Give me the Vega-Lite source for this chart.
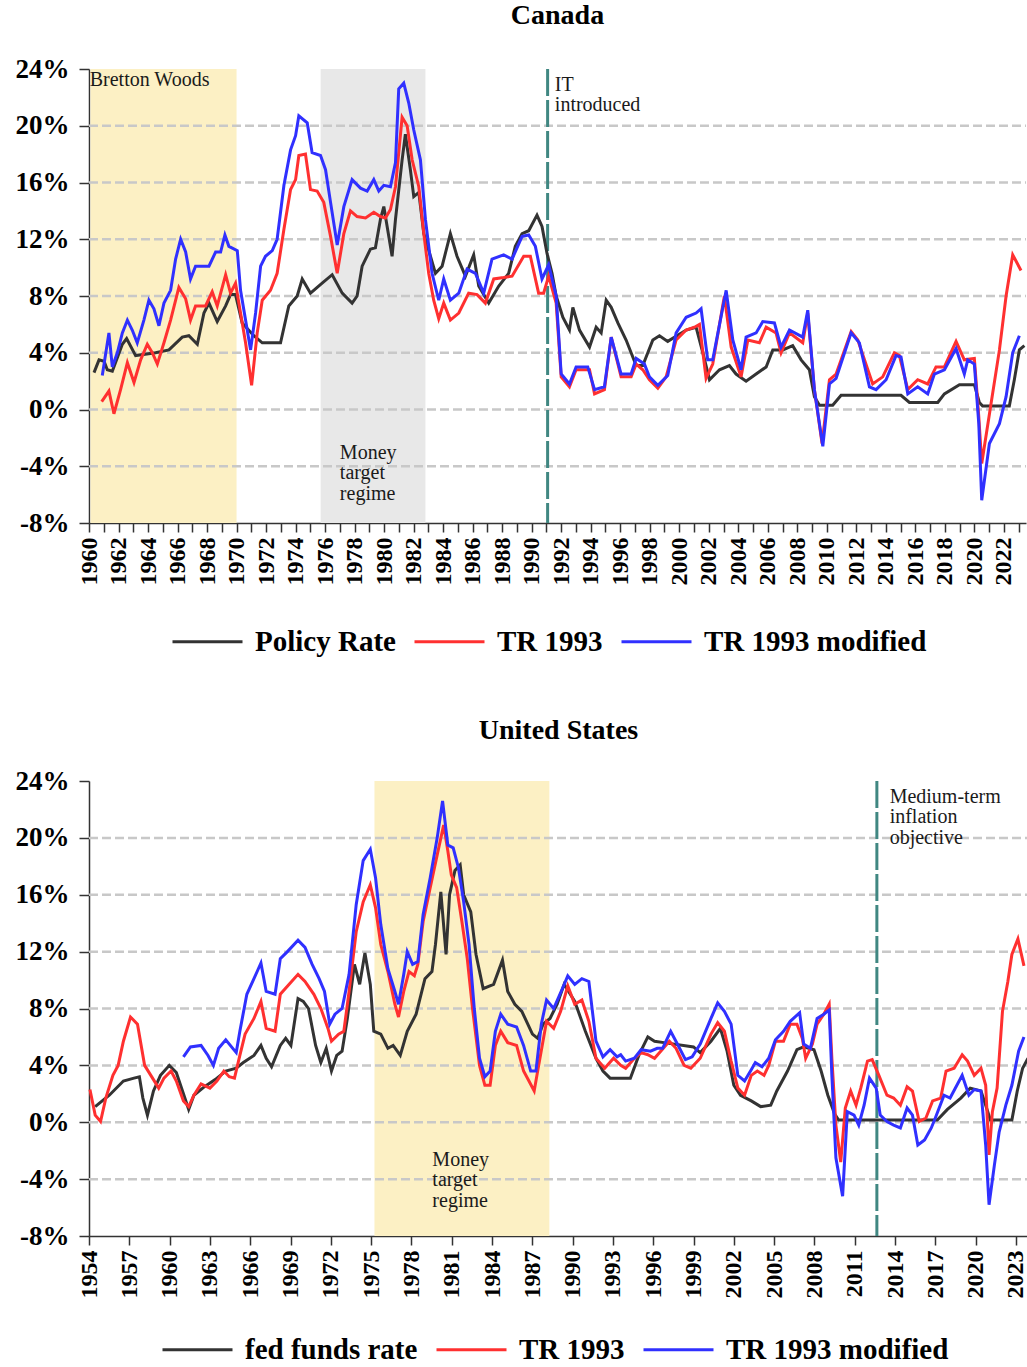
{
"$schema": "https://vega.github.io/schema/vega-lite/v6.json",
"padding": {"left": 15, "top": 2, "right": 0, "bottom": 0},
"spacing": 60,
"config": {
  "view": {"stroke": null},
  "font": "Liberation Serif",
  "title": {"font": "Liberation Serif", "fontSize": 28, "fontWeight": "bold", "color": "#000000"},
  "axis": {"labelFont": "Liberation Serif", "labelFontWeight": "bold", "labelColor": "#000000", "domainColor": "#333333", "tickColor": "#333333", "domainWidth": 1.5, "tickWidth": 1.5, "grid": false}
},
"datasets": {
"grid": [{"rate": -4}, {"rate": 0}, {"rate": 4}, {"rate": 8}, {"rate": 12}, {"rate": 16}, {"rate": 20}],
"ca": [
{"year":1960.34,"rate":2.6,"series":"Policy Rate"},{"year":1960.68,"rate":3.5,"series":"Policy Rate"},{"year":1961.02,"rate":3.4,"series":"Policy Rate"},{"year":1961.24,"rate":2.8,"series":"Policy Rate"},{"year":1961.58,"rate":2.7,"series":"Policy Rate"},{"year":1962.26,"rate":4.6,"series":"Policy Rate"},{"year":1962.55,"rate":5.0,"series":"Policy Rate"},{"year":1963.16,"rate":3.8,"series":"Policy Rate"},{"year":1964.51,"rate":4.0,"series":"Policy Rate"},{"year":1965.42,"rate":4.2,"series":"Policy Rate"},{"year":1966.32,"rate":5.1,"series":"Policy Rate"},{"year":1966.77,"rate":5.2,"series":"Policy Rate"},{"year":1967.34,"rate":4.6,"series":"Policy Rate"},{"year":1967.79,"rate":6.8,"series":"Policy Rate"},{"year":1968.13,"rate":7.5,"series":"Policy Rate"},{"year":1968.69,"rate":6.2,"series":"Policy Rate"},{"year":1969.26,"rate":7.3,"series":"Policy Rate"},{"year":1969.59,"rate":8.1,"series":"Policy Rate"},{"year":1969.93,"rate":8.1,"series":"Policy Rate"},{"year":1970.38,"rate":6.1,"series":"Policy Rate"},{"year":1971.17,"rate":5.2,"series":"Policy Rate"},{"year":1971.74,"rate":4.7,"series":"Policy Rate"},{"year":1972.98,"rate":4.7,"series":"Policy Rate"},{"year":1973.54,"rate":7.3,"series":"Policy Rate"},{"year":1974.11,"rate":8.0,"series":"Policy Rate"},{"year":1974.45,"rate":9.2,"series":"Policy Rate"},{"year":1975.01,"rate":8.2,"series":"Policy Rate"},{"year":1975.8,"rate":8.9,"series":"Policy Rate"},{"year":1976.48,"rate":9.5,"series":"Policy Rate"},{"year":1977.16,"rate":8.2,"series":"Policy Rate"},{"year":1977.83,"rate":7.5,"series":"Policy Rate"},{"year":1978.17,"rate":8.0,"series":"Policy Rate"},{"year":1978.51,"rate":10.1,"series":"Policy Rate"},{"year":1979.07,"rate":11.3,"series":"Policy Rate"},{"year":1979.41,"rate":11.4,"series":"Policy Rate"},{"year":1979.75,"rate":13.4,"series":"Policy Rate"},{"year":1979.98,"rate":14.3,"series":"Policy Rate"},{"year":1980.54,"rate":10.8,"series":"Policy Rate"},{"year":1980.77,"rate":13.4,"series":"Policy Rate"},{"year":1981.22,"rate":17.6,"series":"Policy Rate"},{"year":1981.44,"rate":19.4,"series":"Policy Rate"},{"year":1981.78,"rate":16.9,"series":"Policy Rate"},{"year":1982.01,"rate":15.0,"series":"Policy Rate"},{"year":1982.35,"rate":15.3,"series":"Policy Rate"},{"year":1982.69,"rate":12.4,"series":"Policy Rate"},{"year":1983.48,"rate":9.6,"series":"Policy Rate"},{"year":1983.93,"rate":10.1,"series":"Policy Rate"},{"year":1984.49,"rate":12.4,"series":"Policy Rate"},{"year":1984.94,"rate":10.8,"series":"Policy Rate"},{"year":1985.51,"rate":9.4,"series":"Policy Rate"},{"year":1986.07,"rate":10.9,"series":"Policy Rate"},{"year":1986.41,"rate":8.7,"series":"Policy Rate"},{"year":1987.09,"rate":7.5,"series":"Policy Rate"},{"year":1987.77,"rate":8.7,"series":"Policy Rate"},{"year":1988.44,"rate":9.6,"series":"Policy Rate"},{"year":1988.89,"rate":11.5,"series":"Policy Rate"},{"year":1989.35,"rate":12.4,"series":"Policy Rate"},{"year":1989.8,"rate":12.6,"series":"Policy Rate"},{"year":1990.36,"rate":13.7,"series":"Policy Rate"},{"year":1990.7,"rate":12.9,"series":"Policy Rate"},{"year":1991.04,"rate":11.0,"series":"Policy Rate"},{"year":1991.38,"rate":9.6,"series":"Policy Rate"},{"year":1991.66,"rate":8.0,"series":"Policy Rate"},{"year":1992.11,"rate":6.5,"series":"Policy Rate"},{"year":1992.56,"rate":5.6,"series":"Policy Rate"},{"year":1992.79,"rate":7.2,"series":"Policy Rate"},{"year":1993.24,"rate":5.6,"series":"Policy Rate"},{"year":1993.92,"rate":4.4,"series":"Policy Rate"},{"year":1994.37,"rate":5.8,"series":"Policy Rate"},{"year":1994.71,"rate":5.4,"series":"Policy Rate"},{"year":1995.05,"rate":7.7,"series":"Policy Rate"},{"year":1995.39,"rate":7.2,"series":"Policy Rate"},{"year":1995.84,"rate":6.1,"series":"Policy Rate"},{"year":1996.4,"rate":4.9,"series":"Policy Rate"},{"year":1997.08,"rate":3.1,"series":"Policy Rate"},{"year":1997.53,"rate":3.1,"series":"Policy Rate"},{"year":1998.21,"rate":4.9,"series":"Policy Rate"},{"year":1998.66,"rate":5.2,"series":"Policy Rate"},{"year":1999.22,"rate":4.8,"series":"Policy Rate"},{"year":2000.47,"rate":5.6,"series":"Policy Rate"},{"year":2001.14,"rate":5.8,"series":"Policy Rate"},{"year":2001.6,"rate":4.0,"series":"Policy Rate"},{"year":2002.05,"rate":2.1,"series":"Policy Rate"},{"year":2002.73,"rate":2.8,"series":"Policy Rate"},{"year":2003.4,"rate":3.1,"series":"Policy Rate"},{"year":2003.85,"rate":2.5,"series":"Policy Rate"},{"year":2004.53,"rate":2.0,"series":"Policy Rate"},{"year":2005.21,"rate":2.5,"series":"Policy Rate"},{"year":2005.89,"rate":3.0,"series":"Policy Rate"},{"year":2006.34,"rate":4.2,"series":"Policy Rate"},{"year":2007.02,"rate":4.2,"series":"Policy Rate"},{"year":2007.69,"rate":4.5,"series":"Policy Rate"},{"year":2008.26,"rate":3.5,"series":"Policy Rate"},{"year":2008.82,"rate":2.8,"series":"Policy Rate"},{"year":2009.16,"rate":0.9,"series":"Policy Rate"},{"year":2009.5,"rate":0.3,"series":"Policy Rate"},{"year":2010.4,"rate":0.3,"series":"Policy Rate"},{"year":2010.97,"rate":1.0,"series":"Policy Rate"},{"year":2015.03,"rate":1.0,"series":"Policy Rate"},{"year":2015.6,"rate":0.5,"series":"Policy Rate"},{"year":2017.52,"rate":0.5,"series":"Policy Rate"},{"year":2017.97,"rate":1.1,"series":"Policy Rate"},{"year":2018.99,"rate":1.75,"series":"Policy Rate"},{"year":2020.0,"rate":1.75,"series":"Policy Rate"},{"year":2020.34,"rate":0.5,"series":"Policy Rate"},{"year":2020.56,"rate":0.25,"series":"Policy Rate"},{"year":2022.37,"rate":0.25,"series":"Policy Rate"},{"year":2022.71,"rate":2.1,"series":"Policy Rate"},{"year":2023.05,"rate":4.2,"series":"Policy Rate"},{"year":2023.39,"rate":4.5,"series":"Policy Rate"},
{"year":1960.86,"rate":0.56,"series":"TR 1993"},{"year":1961.35,"rate":1.3,"series":"TR 1993"},{"year":1961.69,"rate":-0.3,"series":"TR 1993"},{"year":1962.14,"rate":1.4,"series":"TR 1993"},{"year":1962.6,"rate":3.3,"series":"TR 1993"},{"year":1963.05,"rate":1.9,"series":"TR 1993"},{"year":1963.5,"rate":3.5,"series":"TR 1993"},{"year":1963.95,"rate":4.6,"series":"TR 1993"},{"year":1964.29,"rate":4.0,"series":"TR 1993"},{"year":1964.63,"rate":3.2,"series":"TR 1993"},{"year":1965.08,"rate":4.7,"series":"TR 1993"},{"year":1965.53,"rate":6.3,"series":"TR 1993"},{"year":1966.09,"rate":8.6,"series":"TR 1993"},{"year":1966.55,"rate":7.8,"series":"TR 1993"},{"year":1966.88,"rate":6.3,"series":"TR 1993"},{"year":1967.22,"rate":7.3,"series":"TR 1993"},{"year":1967.9,"rate":7.3,"series":"TR 1993"},{"year":1968.35,"rate":8.3,"series":"TR 1993"},{"year":1968.69,"rate":7.3,"series":"TR 1993"},{"year":1969.26,"rate":9.5,"series":"TR 1993"},{"year":1969.59,"rate":8.2,"series":"TR 1993"},{"year":1969.93,"rate":8.9,"series":"TR 1993"},{"year":1970.27,"rate":6.8,"series":"TR 1993"},{"year":1970.61,"rate":4.7,"series":"TR 1993"},{"year":1971.02,"rate":1.7,"series":"TR 1993"},{"year":1971.4,"rate":5.4,"series":"TR 1993"},{"year":1971.74,"rate":7.7,"series":"TR 1993"},{"year":1972.3,"rate":8.4,"series":"TR 1993"},{"year":1972.75,"rate":9.6,"series":"TR 1993"},{"year":1973.21,"rate":12.7,"series":"TR 1993"},{"year":1973.66,"rate":15.5,"series":"TR 1993"},{"year":1974.0,"rate":16.2,"series":"TR 1993"},{"year":1974.22,"rate":17.9,"series":"TR 1993"},{"year":1974.67,"rate":18.0,"series":"TR 1993"},{"year":1975.01,"rate":15.5,"series":"TR 1993"},{"year":1975.46,"rate":15.4,"series":"TR 1993"},{"year":1975.91,"rate":14.6,"series":"TR 1993"},{"year":1976.37,"rate":12.2,"series":"TR 1993"},{"year":1976.82,"rate":9.6,"series":"TR 1993"},{"year":1977.27,"rate":12.4,"series":"TR 1993"},{"year":1977.72,"rate":14.0,"series":"TR 1993"},{"year":1978.17,"rate":13.6,"series":"TR 1993"},{"year":1978.74,"rate":13.5,"series":"TR 1993"},{"year":1979.3,"rate":13.9,"series":"TR 1993"},{"year":1979.75,"rate":13.6,"series":"TR 1993"},{"year":1980.09,"rate":13.5,"series":"TR 1993"},{"year":1980.43,"rate":14.1,"series":"TR 1993"},{"year":1980.77,"rate":15.7,"series":"TR 1993"},{"year":1981.22,"rate":20.6,"series":"TR 1993"},{"year":1981.56,"rate":20.0,"series":"TR 1993"},{"year":1981.9,"rate":17.6,"series":"TR 1993"},{"year":1982.35,"rate":15.7,"series":"TR 1993"},{"year":1982.69,"rate":12.4,"series":"TR 1993"},{"year":1983.02,"rate":9.6,"series":"TR 1993"},{"year":1983.36,"rate":7.7,"series":"TR 1993"},{"year":1983.7,"rate":6.4,"series":"TR 1993"},{"year":1984.04,"rate":7.5,"series":"TR 1993"},{"year":1984.49,"rate":6.3,"series":"TR 1993"},{"year":1985.06,"rate":6.8,"series":"TR 1993"},{"year":1985.73,"rate":8.2,"series":"TR 1993"},{"year":1986.3,"rate":8.1,"series":"TR 1993"},{"year":1986.86,"rate":7.5,"series":"TR 1993"},{"year":1987.43,"rate":9.2,"series":"TR 1993"},{"year":1988.1,"rate":9.3,"series":"TR 1993"},{"year":1988.67,"rate":9.4,"series":"TR 1993"},{"year":1989.46,"rate":10.8,"series":"TR 1993"},{"year":1989.91,"rate":10.8,"series":"TR 1993"},{"year":1990.47,"rate":8.2,"series":"TR 1993"},{"year":1990.81,"rate":8.2,"series":"TR 1993"},{"year":1991.15,"rate":9.4,"series":"TR 1993"},{"year":1991.66,"rate":7.5,"series":"TR 1993"},{"year":1992.0,"rate":2.3,"series":"TR 1993"},{"year":1992.56,"rate":1.6,"series":"TR 1993"},{"year":1993.01,"rate":2.8,"series":"TR 1993"},{"year":1993.92,"rate":2.8,"series":"TR 1993"},{"year":1994.26,"rate":1.1,"series":"TR 1993"},{"year":1994.93,"rate":1.4,"series":"TR 1993"},{"year":1995.39,"rate":5.1,"series":"TR 1993"},{"year":1996.06,"rate":2.3,"series":"TR 1993"},{"year":1996.74,"rate":2.3,"series":"TR 1993"},{"year":1997.08,"rate":3.2,"series":"TR 1993"},{"year":1997.53,"rate":2.8,"series":"TR 1993"},{"year":1997.98,"rate":2.1,"series":"TR 1993"},{"year":1998.55,"rate":1.5,"series":"TR 1993"},{"year":1999.11,"rate":2.3,"series":"TR 1993"},{"year":1999.79,"rate":4.9,"series":"TR 1993"},{"year":2000.47,"rate":5.6,"series":"TR 1993"},{"year":2001.03,"rate":5.8,"series":"TR 1993"},{"year":2001.37,"rate":6.0,"series":"TR 1993"},{"year":2001.82,"rate":2.2,"series":"TR 1993"},{"year":2002.27,"rate":3.2,"series":"TR 1993"},{"year":2003.06,"rate":8.0,"series":"TR 1993"},{"year":2003.52,"rate":4.4,"series":"TR 1993"},{"year":2004.19,"rate":2.3,"series":"TR 1993"},{"year":2004.65,"rate":4.9,"series":"TR 1993"},{"year":2005.43,"rate":4.7,"series":"TR 1993"},{"year":2005.89,"rate":5.8,"series":"TR 1993"},{"year":2006.56,"rate":5.4,"series":"TR 1993"},{"year":2006.9,"rate":4.0,"series":"TR 1993"},{"year":2007.47,"rate":5.4,"series":"TR 1993"},{"year":2008.37,"rate":4.7,"series":"TR 1993"},{"year":2008.71,"rate":6.8,"series":"TR 1993"},{"year":2009.16,"rate":1.4,"series":"TR 1993"},{"year":2009.68,"rate":-2.4,"series":"TR 1993"},{"year":2010.18,"rate":2.1,"series":"TR 1993"},{"year":2010.63,"rate":2.5,"series":"TR 1993"},{"year":2011.65,"rate":5.5,"series":"TR 1993"},{"year":2012.1,"rate":4.9,"series":"TR 1993"},{"year":2013.11,"rate":1.8,"series":"TR 1993"},{"year":2013.79,"rate":2.3,"series":"TR 1993"},{"year":2014.58,"rate":4.0,"series":"TR 1993"},{"year":2014.92,"rate":3.8,"series":"TR 1993"},{"year":2015.49,"rate":1.4,"series":"TR 1993"},{"year":2016.16,"rate":2.1,"series":"TR 1993"},{"year":2016.84,"rate":1.8,"series":"TR 1993"},{"year":2017.4,"rate":3.0,"series":"TR 1993"},{"year":2017.97,"rate":3.0,"series":"TR 1993"},{"year":2018.76,"rate":4.8,"series":"TR 1993"},{"year":2019.32,"rate":3.5,"series":"TR 1993"},{"year":2020.0,"rate":3.6,"series":"TR 1993"},{"year":2020.3,"rate":-0.5,"series":"TR 1993"},{"year":2020.5,"rate":-3.8,"series":"TR 1993"},{"year":2021.13,"rate":0.4,"series":"TR 1993"},{"year":2021.7,"rate":4.2,"series":"TR 1993"},{"year":2022.15,"rate":8.0,"series":"TR 1993"},{"year":2022.6,"rate":10.9,"series":"TR 1993"},{"year":2023.16,"rate":9.8,"series":"TR 1993"},
{"year":1960.9,"rate":2.4,"series":"TR 1993 modified"},{"year":1961.35,"rate":5.4,"series":"TR 1993 modified"},{"year":1961.58,"rate":3.0,"series":"TR 1993 modified"},{"year":1961.92,"rate":4.0,"series":"TR 1993 modified"},{"year":1962.26,"rate":5.4,"series":"TR 1993 modified"},{"year":1962.6,"rate":6.3,"series":"TR 1993 modified"},{"year":1962.93,"rate":5.6,"series":"TR 1993 modified"},{"year":1963.27,"rate":4.7,"series":"TR 1993 modified"},{"year":1963.72,"rate":6.3,"series":"TR 1993 modified"},{"year":1964.06,"rate":7.7,"series":"TR 1993 modified"},{"year":1964.4,"rate":7.1,"series":"TR 1993 modified"},{"year":1964.74,"rate":5.9,"series":"TR 1993 modified"},{"year":1965.08,"rate":7.5,"series":"TR 1993 modified"},{"year":1965.53,"rate":8.4,"series":"TR 1993 modified"},{"year":1965.87,"rate":10.6,"series":"TR 1993 modified"},{"year":1966.21,"rate":12.0,"series":"TR 1993 modified"},{"year":1966.55,"rate":11.1,"series":"TR 1993 modified"},{"year":1966.88,"rate":9.2,"series":"TR 1993 modified"},{"year":1967.22,"rate":10.1,"series":"TR 1993 modified"},{"year":1968.13,"rate":10.1,"series":"TR 1993 modified"},{"year":1968.58,"rate":11.1,"series":"TR 1993 modified"},{"year":1968.92,"rate":11.1,"series":"TR 1993 modified"},{"year":1969.21,"rate":12.3,"series":"TR 1993 modified"},{"year":1969.48,"rate":11.5,"series":"TR 1993 modified"},{"year":1970.05,"rate":11.2,"series":"TR 1993 modified"},{"year":1970.27,"rate":8.4,"series":"TR 1993 modified"},{"year":1970.61,"rate":6.3,"series":"TR 1993 modified"},{"year":1970.95,"rate":4.2,"series":"TR 1993 modified"},{"year":1971.29,"rate":6.8,"series":"TR 1993 modified"},{"year":1971.63,"rate":10.1,"series":"TR 1993 modified"},{"year":1971.96,"rate":10.8,"series":"TR 1993 modified"},{"year":1972.42,"rate":11.2,"series":"TR 1993 modified"},{"year":1972.75,"rate":12.0,"series":"TR 1993 modified"},{"year":1973.21,"rate":15.8,"series":"TR 1993 modified"},{"year":1973.66,"rate":18.3,"series":"TR 1993 modified"},{"year":1974.0,"rate":19.3,"series":"TR 1993 modified"},{"year":1974.22,"rate":20.7,"series":"TR 1993 modified"},{"year":1974.79,"rate":20.2,"series":"TR 1993 modified"},{"year":1975.12,"rate":18.1,"series":"TR 1993 modified"},{"year":1975.69,"rate":17.9,"series":"TR 1993 modified"},{"year":1976.03,"rate":16.9,"series":"TR 1993 modified"},{"year":1976.37,"rate":14.6,"series":"TR 1993 modified"},{"year":1976.82,"rate":11.6,"series":"TR 1993 modified"},{"year":1977.27,"rate":14.3,"series":"TR 1993 modified"},{"year":1977.83,"rate":16.2,"series":"TR 1993 modified"},{"year":1978.4,"rate":15.6,"series":"TR 1993 modified"},{"year":1978.85,"rate":15.4,"series":"TR 1993 modified"},{"year":1979.3,"rate":16.2,"series":"TR 1993 modified"},{"year":1979.64,"rate":15.4,"series":"TR 1993 modified"},{"year":1979.98,"rate":15.8,"series":"TR 1993 modified"},{"year":1980.43,"rate":15.7,"series":"TR 1993 modified"},{"year":1980.77,"rate":17.4,"series":"TR 1993 modified"},{"year":1980.99,"rate":22.6,"series":"TR 1993 modified"},{"year":1981.33,"rate":23.0,"series":"TR 1993 modified"},{"year":1981.67,"rate":21.6,"series":"TR 1993 modified"},{"year":1982.01,"rate":19.7,"series":"TR 1993 modified"},{"year":1982.46,"rate":17.6,"series":"TR 1993 modified"},{"year":1982.8,"rate":13.4,"series":"TR 1993 modified"},{"year":1983.25,"rate":9.6,"series":"TR 1993 modified"},{"year":1983.7,"rate":7.7,"series":"TR 1993 modified"},{"year":1984.04,"rate":9.2,"series":"TR 1993 modified"},{"year":1984.49,"rate":7.7,"series":"TR 1993 modified"},{"year":1985.06,"rate":8.2,"series":"TR 1993 modified"},{"year":1985.62,"rate":9.9,"series":"TR 1993 modified"},{"year":1986.19,"rate":9.6,"series":"TR 1993 modified"},{"year":1986.75,"rate":8.2,"series":"TR 1993 modified"},{"year":1987.31,"rate":10.6,"series":"TR 1993 modified"},{"year":1988.1,"rate":10.9,"series":"TR 1993 modified"},{"year":1988.67,"rate":10.6,"series":"TR 1993 modified"},{"year":1989.35,"rate":12.2,"series":"TR 1993 modified"},{"year":1989.8,"rate":12.3,"series":"TR 1993 modified"},{"year":1990.25,"rate":11.5,"series":"TR 1993 modified"},{"year":1990.7,"rate":9.2,"series":"TR 1993 modified"},{"year":1991.15,"rate":10.2,"series":"TR 1993 modified"},{"year":1991.66,"rate":8.0,"series":"TR 1993 modified"},{"year":1992.0,"rate":2.5,"series":"TR 1993 modified"},{"year":1992.56,"rate":1.8,"series":"TR 1993 modified"},{"year":1993.01,"rate":3.0,"series":"TR 1993 modified"},{"year":1993.8,"rate":3.0,"series":"TR 1993 modified"},{"year":1994.26,"rate":1.4,"series":"TR 1993 modified"},{"year":1994.93,"rate":1.6,"series":"TR 1993 modified"},{"year":1995.39,"rate":5.1,"series":"TR 1993 modified"},{"year":1996.06,"rate":2.5,"series":"TR 1993 modified"},{"year":1996.74,"rate":2.5,"series":"TR 1993 modified"},{"year":1997.08,"rate":3.6,"series":"TR 1993 modified"},{"year":1997.64,"rate":3.2,"series":"TR 1993 modified"},{"year":1997.98,"rate":2.3,"series":"TR 1993 modified"},{"year":1998.55,"rate":1.7,"series":"TR 1993 modified"},{"year":1999.22,"rate":2.4,"series":"TR 1993 modified"},{"year":1999.79,"rate":5.4,"series":"TR 1993 modified"},{"year":2000.47,"rate":6.5,"series":"TR 1993 modified"},{"year":2001.14,"rate":6.8,"series":"TR 1993 modified"},{"year":2001.48,"rate":7.1,"series":"TR 1993 modified"},{"year":2001.93,"rate":3.5,"series":"TR 1993 modified"},{"year":2002.27,"rate":3.5,"series":"TR 1993 modified"},{"year":2003.18,"rate":8.4,"series":"TR 1993 modified"},{"year":2003.63,"rate":4.9,"series":"TR 1993 modified"},{"year":2004.19,"rate":2.8,"series":"TR 1993 modified"},{"year":2004.53,"rate":5.1,"series":"TR 1993 modified"},{"year":2005.21,"rate":5.4,"series":"TR 1993 modified"},{"year":2005.66,"rate":6.2,"series":"TR 1993 modified"},{"year":2006.45,"rate":6.1,"series":"TR 1993 modified"},{"year":2006.9,"rate":4.4,"series":"TR 1993 modified"},{"year":2007.47,"rate":5.6,"series":"TR 1993 modified"},{"year":2008.37,"rate":5.1,"series":"TR 1993 modified"},{"year":2008.71,"rate":7.0,"series":"TR 1993 modified"},{"year":2009.16,"rate":1.4,"series":"TR 1993 modified"},{"year":2009.73,"rate":-2.6,"series":"TR 1993 modified"},{"year":2010.18,"rate":1.8,"series":"TR 1993 modified"},{"year":2010.63,"rate":2.2,"series":"TR 1993 modified"},{"year":2011.65,"rate":5.4,"series":"TR 1993 modified"},{"year":2012.21,"rate":4.7,"series":"TR 1993 modified"},{"year":2012.89,"rate":1.6,"series":"TR 1993 modified"},{"year":2013.34,"rate":1.4,"series":"TR 1993 modified"},{"year":2014.02,"rate":2.1,"series":"TR 1993 modified"},{"year":2014.69,"rate":3.8,"series":"TR 1993 modified"},{"year":2015.03,"rate":3.7,"series":"TR 1993 modified"},{"year":2015.49,"rate":1.1,"series":"TR 1993 modified"},{"year":2016.16,"rate":1.6,"series":"TR 1993 modified"},{"year":2016.84,"rate":1.1,"series":"TR 1993 modified"},{"year":2017.29,"rate":2.5,"series":"TR 1993 modified"},{"year":2017.97,"rate":2.8,"series":"TR 1993 modified"},{"year":2018.76,"rate":4.3,"series":"TR 1993 modified"},{"year":2019.32,"rate":2.5,"series":"TR 1993 modified"},{"year":2019.55,"rate":3.5,"series":"TR 1993 modified"},{"year":2020.0,"rate":3.2,"series":"TR 1993 modified"},{"year":2020.3,"rate":-1.0,"series":"TR 1993 modified"},{"year":2020.5,"rate":-6.4,"series":"TR 1993 modified"},{"year":2021.02,"rate":-2.4,"series":"TR 1993 modified"},{"year":2021.7,"rate":-1.0,"series":"TR 1993 modified"},{"year":2022.15,"rate":0.9,"series":"TR 1993 modified"},{"year":2022.6,"rate":4.0,"series":"TR 1993 modified"},{"year":2023.05,"rate":5.2,"series":"TR 1993 modified"}
],
"us": [
{"year":1954.46,"rate":1.1,"series":"fed funds rate"},{"year":1955.51,"rate":1.9,"series":"fed funds rate"},{"year":1956.56,"rate":2.9,"series":"fed funds rate"},{"year":1957.35,"rate":3.1,"series":"fed funds rate"},{"year":1957.75,"rate":3.2,"series":"fed funds rate"},{"year":1958.01,"rate":1.7,"series":"fed funds rate"},{"year":1958.35,"rate":0.5,"series":"fed funds rate"},{"year":1958.8,"rate":2.2,"series":"fed funds rate"},{"year":1959.32,"rate":3.3,"series":"fed funds rate"},{"year":1959.98,"rate":4.0,"series":"fed funds rate"},{"year":1960.5,"rate":3.5,"series":"fed funds rate"},{"year":1961.03,"rate":2.0,"series":"fed funds rate"},{"year":1961.42,"rate":0.9,"series":"fed funds rate"},{"year":1961.81,"rate":1.9,"series":"fed funds rate"},{"year":1962.6,"rate":2.5,"series":"fed funds rate"},{"year":1963.39,"rate":3.0,"series":"fed funds rate"},{"year":1964.18,"rate":3.6,"series":"fed funds rate"},{"year":1964.96,"rate":3.8,"series":"fed funds rate"},{"year":1965.49,"rate":4.2,"series":"fed funds rate"},{"year":1966.28,"rate":4.7,"series":"fed funds rate"},{"year":1966.8,"rate":5.4,"series":"fed funds rate"},{"year":1967.19,"rate":4.5,"series":"fed funds rate"},{"year":1967.59,"rate":3.9,"series":"fed funds rate"},{"year":1968.24,"rate":5.4,"series":"fed funds rate"},{"year":1968.64,"rate":5.9,"series":"fed funds rate"},{"year":1969.03,"rate":5.4,"series":"fed funds rate"},{"year":1969.56,"rate":8.7,"series":"fed funds rate"},{"year":1969.95,"rate":8.5,"series":"fed funds rate"},{"year":1970.34,"rate":8.0,"series":"fed funds rate"},{"year":1970.87,"rate":5.4,"series":"fed funds rate"},{"year":1971.26,"rate":4.2,"series":"fed funds rate"},{"year":1971.66,"rate":5.2,"series":"fed funds rate"},{"year":1972.05,"rate":3.6,"series":"fed funds rate"},{"year":1972.44,"rate":4.7,"series":"fed funds rate"},{"year":1972.84,"rate":5.0,"series":"fed funds rate"},{"year":1973.23,"rate":7.3,"series":"fed funds rate"},{"year":1973.76,"rate":11.1,"series":"fed funds rate"},{"year":1974.15,"rate":9.7,"series":"fed funds rate"},{"year":1974.54,"rate":11.9,"series":"fed funds rate"},{"year":1974.94,"rate":9.7,"series":"fed funds rate"},{"year":1975.2,"rate":6.4,"series":"fed funds rate"},{"year":1975.72,"rate":6.2,"series":"fed funds rate"},{"year":1976.25,"rate":5.2,"series":"fed funds rate"},{"year":1976.64,"rate":5.4,"series":"fed funds rate"},{"year":1977.17,"rate":4.7,"series":"fed funds rate"},{"year":1977.69,"rate":6.4,"series":"fed funds rate"},{"year":1978.35,"rate":7.6,"series":"fed funds rate"},{"year":1979.01,"rate":10.1,"series":"fed funds rate"},{"year":1979.53,"rate":10.6,"series":"fed funds rate"},{"year":1979.79,"rate":12.5,"series":"fed funds rate"},{"year":1980.19,"rate":16.2,"series":"fed funds rate"},{"year":1980.58,"rate":11.8,"series":"fed funds rate"},{"year":1980.84,"rate":16.0,"series":"fed funds rate"},{"year":1981.24,"rate":17.7,"series":"fed funds rate"},{"year":1981.63,"rate":18.1,"series":"fed funds rate"},{"year":1981.89,"rate":16.0,"series":"fed funds rate"},{"year":1982.42,"rate":14.8,"series":"fed funds rate"},{"year":1982.81,"rate":11.8,"series":"fed funds rate"},{"year":1983.34,"rate":9.4,"series":"fed funds rate"},{"year":1984.12,"rate":9.7,"series":"fed funds rate"},{"year":1984.78,"rate":11.4,"series":"fed funds rate"},{"year":1985.17,"rate":9.2,"series":"fed funds rate"},{"year":1985.7,"rate":8.3,"series":"fed funds rate"},{"year":1986.22,"rate":7.8,"series":"fed funds rate"},{"year":1987.01,"rate":6.2,"series":"fed funds rate"},{"year":1987.4,"rate":5.9,"series":"fed funds rate"},{"year":1987.8,"rate":6.9,"series":"fed funds rate"},{"year":1988.32,"rate":7.3,"series":"fed funds rate"},{"year":1988.85,"rate":8.3,"series":"fed funds rate"},{"year":1989.37,"rate":9.7,"series":"fed funds rate"},{"year":1990.16,"rate":8.5,"series":"fed funds rate"},{"year":1990.95,"rate":6.4,"series":"fed funds rate"},{"year":1991.74,"rate":4.5,"series":"fed funds rate"},{"year":1992.26,"rate":3.6,"series":"fed funds rate"},{"year":1992.79,"rate":3.1,"series":"fed funds rate"},{"year":1993.58,"rate":3.1,"series":"fed funds rate"},{"year":1994.3,"rate":3.1,"series":"fed funds rate"},{"year":1994.95,"rate":4.75,"series":"fed funds rate"},{"year":1995.6,"rate":6.0,"series":"fed funds rate"},{"year":1996.1,"rate":5.7,"series":"fed funds rate"},{"year":1996.8,"rate":5.6,"series":"fed funds rate"},{"year":1999.0,"rate":5.3,"series":"fed funds rate"},{"year":1999.5,"rate":4.9,"series":"fed funds rate"},{"year":2000.3,"rate":5.7,"series":"fed funds rate"},{"year":2001.0,"rate":6.6,"series":"fed funds rate"},{"year":2001.5,"rate":5.0,"series":"fed funds rate"},{"year":2002.0,"rate":2.6,"series":"fed funds rate"},{"year":2002.5,"rate":1.9,"series":"fed funds rate"},{"year":2003.3,"rate":1.5,"series":"fed funds rate"},{"year":2004.0,"rate":1.1,"series":"fed funds rate"},{"year":2004.75,"rate":1.2,"series":"fed funds rate"},{"year":2005.2,"rate":2.2,"series":"fed funds rate"},{"year":2006.0,"rate":3.6,"series":"fed funds rate"},{"year":2006.7,"rate":5.1,"series":"fed funds rate"},{"year":2007.2,"rate":5.3,"series":"fed funds rate"},{"year":2007.97,"rate":5.1,"series":"fed funds rate"},{"year":2008.5,"rate":3.6,"series":"fed funds rate"},{"year":2009.0,"rate":1.9,"series":"fed funds rate"},{"year":2009.5,"rate":0.6,"series":"fed funds rate"},{"year":2009.8,"rate":0.16,"series":"fed funds rate"},{"year":2017.15,"rate":0.16,"series":"fed funds rate"},{"year":2017.9,"rate":0.9,"series":"fed funds rate"},{"year":2018.9,"rate":1.7,"series":"fed funds rate"},{"year":2019.6,"rate":2.4,"series":"fed funds rate"},{"year":2020.4,"rate":2.2,"series":"fed funds rate"},{"year":2020.75,"rate":1.2,"series":"fed funds rate"},{"year":2021.1,"rate":0.16,"series":"fed funds rate"},{"year":2022.7,"rate":0.16,"series":"fed funds rate"},{"year":2023.1,"rate":2.2,"series":"fed funds rate"},{"year":2023.5,"rate":3.8,"series":"fed funds rate"},{"year":2023.9,"rate":4.5,"series":"fed funds rate"},
{"year":1954.07,"rate":2.3,"series":"TR 1993"},{"year":1954.46,"rate":0.5,"series":"TR 1993"},{"year":1954.86,"rate":0.05,"series":"TR 1993"},{"year":1955.25,"rate":1.7,"series":"TR 1993"},{"year":1955.78,"rate":3.3,"series":"TR 1993"},{"year":1956.17,"rate":4.0,"series":"TR 1993"},{"year":1956.56,"rate":5.7,"series":"TR 1993"},{"year":1957.09,"rate":7.4,"series":"TR 1993"},{"year":1957.61,"rate":6.9,"series":"TR 1993"},{"year":1958.14,"rate":4.0,"series":"TR 1993"},{"year":1958.8,"rate":3.0,"series":"TR 1993"},{"year":1959.19,"rate":2.4,"series":"TR 1993"},{"year":1959.58,"rate":3.1,"series":"TR 1993"},{"year":1960.11,"rate":3.6,"series":"TR 1993"},{"year":1960.5,"rate":2.9,"series":"TR 1993"},{"year":1961.03,"rate":1.5,"series":"TR 1993"},{"year":1961.42,"rate":1.1,"series":"TR 1993"},{"year":1961.81,"rate":1.9,"series":"TR 1993"},{"year":1962.34,"rate":2.7,"series":"TR 1993"},{"year":1963.0,"rate":2.4,"series":"TR 1993"},{"year":1963.52,"rate":2.9,"series":"TR 1993"},{"year":1964.04,"rate":3.6,"series":"TR 1993"},{"year":1964.44,"rate":3.2,"series":"TR 1993"},{"year":1964.83,"rate":3.1,"series":"TR 1993"},{"year":1965.23,"rate":4.7,"series":"TR 1993"},{"year":1965.62,"rate":6.2,"series":"TR 1993"},{"year":1966.28,"rate":7.3,"series":"TR 1993"},{"year":1966.8,"rate":8.5,"series":"TR 1993"},{"year":1967.19,"rate":6.6,"series":"TR 1993"},{"year":1967.85,"rate":6.4,"series":"TR 1993"},{"year":1968.24,"rate":9.0,"series":"TR 1993"},{"year":1968.9,"rate":9.7,"series":"TR 1993"},{"year":1969.56,"rate":10.4,"series":"TR 1993"},{"year":1970.08,"rate":9.9,"series":"TR 1993"},{"year":1970.74,"rate":9.0,"series":"TR 1993"},{"year":1971.26,"rate":8.0,"series":"TR 1993"},{"year":1971.79,"rate":6.6,"series":"TR 1993"},{"year":1972.05,"rate":5.7,"series":"TR 1993"},{"year":1972.58,"rate":6.2,"series":"TR 1993"},{"year":1972.97,"rate":6.4,"series":"TR 1993"},{"year":1973.36,"rate":9.2,"series":"TR 1993"},{"year":1973.89,"rate":13.4,"series":"TR 1993"},{"year":1974.41,"rate":15.5,"series":"TR 1993"},{"year":1974.94,"rate":16.7,"series":"TR 1993"},{"year":1975.33,"rate":15.1,"series":"TR 1993"},{"year":1975.72,"rate":12.5,"series":"TR 1993"},{"year":1976.25,"rate":10.6,"series":"TR 1993"},{"year":1976.77,"rate":8.3,"series":"TR 1993"},{"year":1977.04,"rate":7.4,"series":"TR 1993"},{"year":1977.43,"rate":9.2,"series":"TR 1993"},{"year":1977.82,"rate":10.6,"series":"TR 1993"},{"year":1978.22,"rate":10.3,"series":"TR 1993"},{"year":1978.48,"rate":11.1,"series":"TR 1993"},{"year":1978.87,"rate":14.1,"series":"TR 1993"},{"year":1979.4,"rate":16.5,"series":"TR 1993"},{"year":1979.92,"rate":18.8,"series":"TR 1993"},{"year":1980.4,"rate":20.9,"series":"TR 1993"},{"year":1980.71,"rate":19.1,"series":"TR 1993"},{"year":1980.97,"rate":17.4,"series":"TR 1993"},{"year":1981.37,"rate":16.5,"series":"TR 1993"},{"year":1981.76,"rate":14.1,"series":"TR 1993"},{"year":1982.16,"rate":11.5,"series":"TR 1993"},{"year":1982.55,"rate":8.0,"series":"TR 1993"},{"year":1983.07,"rate":4.0,"series":"TR 1993"},{"year":1983.47,"rate":2.6,"series":"TR 1993"},{"year":1983.86,"rate":2.6,"series":"TR 1993"},{"year":1984.25,"rate":5.4,"series":"TR 1993"},{"year":1984.65,"rate":6.4,"series":"TR 1993"},{"year":1985.17,"rate":5.6,"series":"TR 1993"},{"year":1985.83,"rate":5.4,"series":"TR 1993"},{"year":1986.35,"rate":3.6,"series":"TR 1993"},{"year":1986.75,"rate":2.9,"series":"TR 1993"},{"year":1987.14,"rate":2.2,"series":"TR 1993"},{"year":1987.4,"rate":3.6,"series":"TR 1993"},{"year":1988.06,"rate":7.1,"series":"TR 1993"},{"year":1988.59,"rate":6.6,"series":"TR 1993"},{"year":1989.11,"rate":7.8,"series":"TR 1993"},{"year":1989.64,"rate":9.6,"series":"TR 1993"},{"year":1990.16,"rate":8.3,"series":"TR 1993"},{"year":1990.69,"rate":8.6,"series":"TR 1993"},{"year":1991.21,"rate":7.1,"series":"TR 1993"},{"year":1991.74,"rate":4.5,"series":"TR 1993"},{"year":1992.39,"rate":3.8,"series":"TR 1993"},{"year":1993.05,"rate":4.5,"series":"TR 1993"},{"year":1993.58,"rate":4.0,"series":"TR 1993"},{"year":1993.95,"rate":3.8,"series":"TR 1993"},{"year":1994.6,"rate":4.5,"series":"TR 1993"},{"year":1995.1,"rate":4.9,"series":"TR 1993"},{"year":1995.6,"rate":4.75,"series":"TR 1993"},{"year":1996.1,"rate":4.5,"series":"TR 1993"},{"year":1996.56,"rate":5.0,"series":"TR 1993"},{"year":1997.2,"rate":5.7,"series":"TR 1993"},{"year":1997.7,"rate":5.2,"series":"TR 1993"},{"year":1998.3,"rate":4.0,"series":"TR 1993"},{"year":1998.8,"rate":3.8,"series":"TR 1993"},{"year":1999.5,"rate":4.5,"series":"TR 1993"},{"year":2000.3,"rate":6.2,"series":"TR 1993"},{"year":2000.8,"rate":7.0,"series":"TR 1993"},{"year":2001.3,"rate":6.4,"series":"TR 1993"},{"year":2001.8,"rate":4.3,"series":"TR 1993"},{"year":2002.3,"rate":2.4,"series":"TR 1993"},{"year":2002.8,"rate":1.9,"series":"TR 1993"},{"year":2003.3,"rate":3.3,"series":"TR 1993"},{"year":2003.75,"rate":3.6,"series":"TR 1993"},{"year":2004.25,"rate":3.3,"series":"TR 1993"},{"year":2004.6,"rate":4.0,"series":"TR 1993"},{"year":2005.1,"rate":5.7,"series":"TR 1993"},{"year":2005.7,"rate":5.7,"series":"TR 1993"},{"year":2006.2,"rate":6.9,"series":"TR 1993"},{"year":2006.7,"rate":6.9,"series":"TR 1993"},{"year":2007.1,"rate":5.9,"series":"TR 1993"},{"year":2007.35,"rate":4.5,"series":"TR 1993"},{"year":2007.85,"rate":5.5,"series":"TR 1993"},{"year":2008.2,"rate":6.9,"series":"TR 1993"},{"year":2008.7,"rate":7.6,"series":"TR 1993"},{"year":2009.1,"rate":8.3,"series":"TR 1993"},{"year":2009.3,"rate":4.5,"series":"TR 1993"},{"year":2009.6,"rate":-0.2,"series":"TR 1993"},{"year":2009.96,"rate":-2.8,"series":"TR 1993"},{"year":2010.3,"rate":1.0,"series":"TR 1993"},{"year":2010.7,"rate":2.2,"series":"TR 1993"},{"year":2011.1,"rate":1.2,"series":"TR 1993"},{"year":2011.45,"rate":2.4,"series":"TR 1993"},{"year":2011.95,"rate":4.3,"series":"TR 1993"},{"year":2012.3,"rate":4.4,"series":"TR 1993"},{"year":2012.8,"rate":3.3,"series":"TR 1993"},{"year":2013.4,"rate":1.9,"series":"TR 1993"},{"year":2013.9,"rate":1.7,"series":"TR 1993"},{"year":2014.4,"rate":1.2,"series":"TR 1993"},{"year":2014.9,"rate":2.5,"series":"TR 1993"},{"year":2015.3,"rate":2.2,"series":"TR 1993"},{"year":2015.8,"rate":0.05,"series":"TR 1993"},{"year":2016.3,"rate":0.3,"series":"TR 1993"},{"year":2016.8,"rate":1.5,"series":"TR 1993"},{"year":2017.4,"rate":1.7,"series":"TR 1993"},{"year":2017.8,"rate":3.6,"series":"TR 1993"},{"year":2018.4,"rate":3.8,"series":"TR 1993"},{"year":2019.0,"rate":4.75,"series":"TR 1993"},{"year":2019.4,"rate":4.3,"series":"TR 1993"},{"year":2019.9,"rate":3.3,"series":"TR 1993"},{"year":2020.4,"rate":3.8,"series":"TR 1993"},{"year":2020.75,"rate":2.6,"series":"TR 1993"},{"year":2021.0,"rate":-2.3,"series":"TR 1993"},{"year":2021.25,"rate":0.75,"series":"TR 1993"},{"year":2021.6,"rate":2.4,"series":"TR 1993"},{"year":2022.0,"rate":7.8,"series":"TR 1993"},{"year":2022.4,"rate":9.9,"series":"TR 1993"},{"year":2022.7,"rate":11.8,"series":"TR 1993"},{"year":2023.15,"rate":12.9,"series":"TR 1993"},{"year":2023.6,"rate":11.0,"series":"TR 1993"},
{"year":1961.03,"rate":4.6,"series":"TR 1993 modified"},{"year":1961.55,"rate":5.3,"series":"TR 1993 modified"},{"year":1962.34,"rate":5.4,"series":"TR 1993 modified"},{"year":1962.86,"rate":4.7,"series":"TR 1993 modified"},{"year":1963.26,"rate":4.0,"series":"TR 1993 modified"},{"year":1963.65,"rate":5.2,"series":"TR 1993 modified"},{"year":1964.18,"rate":5.8,"series":"TR 1993 modified"},{"year":1964.96,"rate":4.9,"series":"TR 1993 modified"},{"year":1965.23,"rate":6.4,"series":"TR 1993 modified"},{"year":1965.75,"rate":9.0,"series":"TR 1993 modified"},{"year":1966.28,"rate":10.1,"series":"TR 1993 modified"},{"year":1966.8,"rate":11.2,"series":"TR 1993 modified"},{"year":1967.19,"rate":9.2,"series":"TR 1993 modified"},{"year":1967.85,"rate":9.0,"series":"TR 1993 modified"},{"year":1968.24,"rate":11.5,"series":"TR 1993 modified"},{"year":1968.77,"rate":12.0,"series":"TR 1993 modified"},{"year":1969.56,"rate":12.8,"series":"TR 1993 modified"},{"year":1970.08,"rate":12.3,"series":"TR 1993 modified"},{"year":1970.61,"rate":11.1,"series":"TR 1993 modified"},{"year":1971.13,"rate":10.1,"series":"TR 1993 modified"},{"year":1971.53,"rate":9.2,"series":"TR 1993 modified"},{"year":1971.92,"rate":6.9,"series":"TR 1993 modified"},{"year":1972.31,"rate":7.6,"series":"TR 1993 modified"},{"year":1972.84,"rate":8.0,"series":"TR 1993 modified"},{"year":1973.36,"rate":10.4,"series":"TR 1993 modified"},{"year":1973.89,"rate":15.3,"series":"TR 1993 modified"},{"year":1974.41,"rate":18.4,"series":"TR 1993 modified"},{"year":1974.94,"rate":19.2,"series":"TR 1993 modified"},{"year":1975.33,"rate":17.2,"series":"TR 1993 modified"},{"year":1975.72,"rate":13.9,"series":"TR 1993 modified"},{"year":1976.25,"rate":10.8,"series":"TR 1993 modified"},{"year":1976.77,"rate":9.2,"series":"TR 1993 modified"},{"year":1977.04,"rate":8.3,"series":"TR 1993 modified"},{"year":1977.43,"rate":10.4,"series":"TR 1993 modified"},{"year":1977.69,"rate":12.0,"series":"TR 1993 modified"},{"year":1978.09,"rate":11.1,"series":"TR 1993 modified"},{"year":1978.48,"rate":11.3,"series":"TR 1993 modified"},{"year":1978.87,"rate":14.6,"series":"TR 1993 modified"},{"year":1979.4,"rate":17.2,"series":"TR 1993 modified"},{"year":1979.92,"rate":20.0,"series":"TR 1993 modified"},{"year":1980.32,"rate":22.6,"series":"TR 1993 modified"},{"year":1980.71,"rate":19.5,"series":"TR 1993 modified"},{"year":1981.11,"rate":19.3,"series":"TR 1993 modified"},{"year":1981.5,"rate":17.9,"series":"TR 1993 modified"},{"year":1981.89,"rate":15.5,"series":"TR 1993 modified"},{"year":1982.29,"rate":12.5,"series":"TR 1993 modified"},{"year":1982.68,"rate":8.0,"series":"TR 1993 modified"},{"year":1983.07,"rate":4.5,"series":"TR 1993 modified"},{"year":1983.47,"rate":3.2,"series":"TR 1993 modified"},{"year":1983.86,"rate":3.6,"series":"TR 1993 modified"},{"year":1984.25,"rate":6.4,"series":"TR 1993 modified"},{"year":1984.65,"rate":7.6,"series":"TR 1993 modified"},{"year":1985.17,"rate":6.9,"series":"TR 1993 modified"},{"year":1985.83,"rate":6.7,"series":"TR 1993 modified"},{"year":1986.35,"rate":5.4,"series":"TR 1993 modified"},{"year":1986.88,"rate":3.6,"series":"TR 1993 modified"},{"year":1987.27,"rate":3.6,"series":"TR 1993 modified"},{"year":1987.67,"rate":6.9,"series":"TR 1993 modified"},{"year":1988.06,"rate":8.6,"series":"TR 1993 modified"},{"year":1988.59,"rate":8.0,"series":"TR 1993 modified"},{"year":1989.24,"rate":9.4,"series":"TR 1993 modified"},{"year":1989.64,"rate":10.3,"series":"TR 1993 modified"},{"year":1990.16,"rate":9.7,"series":"TR 1993 modified"},{"year":1990.69,"rate":10.1,"series":"TR 1993 modified"},{"year":1991.21,"rate":9.9,"series":"TR 1993 modified"},{"year":1991.74,"rate":5.7,"series":"TR 1993 modified"},{"year":1992.26,"rate":4.6,"series":"TR 1993 modified"},{"year":1992.79,"rate":5.1,"series":"TR 1993 modified"},{"year":1993.31,"rate":4.6,"series":"TR 1993 modified"},{"year":1993.58,"rate":4.75,"series":"TR 1993 modified"},{"year":1993.95,"rate":4.3,"series":"TR 1993 modified"},{"year":1994.6,"rate":4.5,"series":"TR 1993 modified"},{"year":1995.1,"rate":5.1,"series":"TR 1993 modified"},{"year":1995.8,"rate":5.0,"series":"TR 1993 modified"},{"year":1996.3,"rate":5.2,"series":"TR 1993 modified"},{"year":1996.7,"rate":5.2,"series":"TR 1993 modified"},{"year":1997.3,"rate":6.4,"series":"TR 1993 modified"},{"year":1997.8,"rate":5.5,"series":"TR 1993 modified"},{"year":1998.4,"rate":4.4,"series":"TR 1993 modified"},{"year":1998.9,"rate":4.6,"series":"TR 1993 modified"},{"year":1999.5,"rate":5.5,"series":"TR 1993 modified"},{"year":2000.3,"rate":7.3,"series":"TR 1993 modified"},{"year":2000.8,"rate":8.4,"series":"TR 1993 modified"},{"year":2001.3,"rate":7.8,"series":"TR 1993 modified"},{"year":2001.8,"rate":6.9,"series":"TR 1993 modified"},{"year":2002.3,"rate":3.3,"series":"TR 1993 modified"},{"year":2002.8,"rate":2.9,"series":"TR 1993 modified"},{"year":2003.3,"rate":3.7,"series":"TR 1993 modified"},{"year":2003.6,"rate":4.2,"series":"TR 1993 modified"},{"year":2004.1,"rate":3.9,"series":"TR 1993 modified"},{"year":2004.6,"rate":4.5,"series":"TR 1993 modified"},{"year":2005.1,"rate":5.8,"series":"TR 1993 modified"},{"year":2005.7,"rate":6.4,"series":"TR 1993 modified"},{"year":2006.2,"rate":7.1,"series":"TR 1993 modified"},{"year":2006.9,"rate":7.7,"series":"TR 1993 modified"},{"year":2007.2,"rate":5.5,"series":"TR 1993 modified"},{"year":2007.7,"rate":5.2,"series":"TR 1993 modified"},{"year":2008.2,"rate":7.3,"series":"TR 1993 modified"},{"year":2008.7,"rate":7.6,"series":"TR 1993 modified"},{"year":2009.1,"rate":7.9,"series":"TR 1993 modified"},{"year":2009.3,"rate":3.3,"series":"TR 1993 modified"},{"year":2009.6,"rate":-2.5,"series":"TR 1993 modified"},{"year":2010.1,"rate":-5.2,"series":"TR 1993 modified"},{"year":2010.45,"rate":0.75,"series":"TR 1993 modified"},{"year":2010.95,"rate":0.5,"series":"TR 1993 modified"},{"year":2011.3,"rate":-0.2,"series":"TR 1993 modified"},{"year":2011.7,"rate":1.2,"series":"TR 1993 modified"},{"year":2012.1,"rate":3.1,"series":"TR 1993 modified"},{"year":2012.6,"rate":2.4,"series":"TR 1993 modified"},{"year":2012.9,"rate":0.5,"series":"TR 1993 modified"},{"year":2013.4,"rate":0.05,"series":"TR 1993 modified"},{"year":2013.9,"rate":-0.2,"series":"TR 1993 modified"},{"year":2014.4,"rate":-0.4,"series":"TR 1993 modified"},{"year":2014.9,"rate":1.0,"series":"TR 1993 modified"},{"year":2015.3,"rate":0.5,"series":"TR 1993 modified"},{"year":2015.7,"rate":-1.6,"series":"TR 1993 modified"},{"year":2016.2,"rate":-1.25,"series":"TR 1993 modified"},{"year":2016.7,"rate":-0.4,"series":"TR 1993 modified"},{"year":2017.0,"rate":0.3,"series":"TR 1993 modified"},{"year":2017.65,"rate":1.9,"series":"TR 1993 modified"},{"year":2018.1,"rate":1.7,"series":"TR 1993 modified"},{"year":2019.0,"rate":3.3,"series":"TR 1993 modified"},{"year":2019.5,"rate":1.9,"series":"TR 1993 modified"},{"year":2019.9,"rate":2.3,"series":"TR 1993 modified"},{"year":2020.4,"rate":2.2,"series":"TR 1993 modified"},{"year":2020.75,"rate":-1.6,"series":"TR 1993 modified"},{"year":2021.0,"rate":-5.8,"series":"TR 1993 modified"},{"year":2021.4,"rate":-3.0,"series":"TR 1993 modified"},{"year":2021.75,"rate":-0.7,"series":"TR 1993 modified"},{"year":2022.25,"rate":1.2,"series":"TR 1993 modified"},{"year":2022.7,"rate":2.6,"series":"TR 1993 modified"},{"year":2023.2,"rate":5.0,"series":"TR 1993 modified"},{"year":2023.6,"rate":6.0,"series":"TR 1993 modified"}
]
},
"vconcat": [
{
  "width": 937, "height": 454,
  "title": {"text": "Canada", "anchor": "middle", "frame": "group", "offset": 25},
  "encoding": {
    "x": {"type": "quantitative", "title": null, "scale": {"domain": [1960, 2023.5], "nice": false, "zero": false},
          "axis": {"title": null, "values": [1960,1961,1962,1963,1964,1965,1966,1967,1968,1969,1970,1971,1972,1973,1974,1975,1976,1977,1978,1979,1980,1981,1982,1983,1984,1985,1986,1987,1988,1989,1990,1991,1992,1993,1994,1995,1996,1997,1998,1999,2000,2001,2002,2003,2004,2005,2006,2007,2008,2009,2010,2011,2012,2013,2014,2015,2016,2017,2018,2019,2020,2021,2022,2023],
                   "labelExpr": "datum.value % 2 == 0 ? '' + datum.value : ''", "labelAngle": 270, "labelFontSize": 24, "tickSize": 9, "labelPadding": 5, "labelOverlap": false, "labelFlush": false}},
    "y": {"type": "quantitative", "title": null, "scale": {"domain": [-8, 24], "nice": false},
          "axis": {"title": null, "values": [-8,-4,0,4,8,12,16,20,24], "labelExpr": "datum.value + '%'", "labelFontSize": 27, "tickSize": 10, "labelPadding": 10}}
  },
  "layer": [
    {"data": {"values": [{"start": 1960.1, "end": 1970.0}]}, "mark": {"type": "rect", "fill": "#fcf0c4"},
     "encoding": {"x": {"field": "start"}, "x2": {"field": "end"}, "y": {"datum": 24}, "y2": {"datum": -8}}},
    {"data": {"values": [{"start": 1975.7, "end": 1982.8}]}, "mark": {"type": "rect", "fill": "#e8e8e8"},
     "encoding": {"x": {"field": "start"}, "x2": {"field": "end"}, "y": {"datum": 24}, "y2": {"datum": -8}}},
    {"data": {"name": "grid"}, "mark": {"type": "rule", "color": "#c8c8c8", "strokeWidth": 2.5, "strokeDash": [9, 4]},
     "encoding": {"x": {"datum": 1960}, "x2": {"datum": 2023.5}, "y": {"field": "rate"}}},
    {"data": {"values": [{"year": 1991.08}]}, "mark": {"type": "rule", "color": "#408782", "strokeWidth": 3, "strokeDash": [27, 4]},
     "encoding": {"x": {"field": "year"}, "y": {"datum": 24}, "y2": {"datum": -8}}},
    {"data": {"name": "ca"}, "mark": {"type": "line", "strokeWidth": 3},
     "encoding": {
       "x": {"field": "year"},
       "y": {"field": "rate"},
       "color": {"field": "series", "type": "nominal",
                 "scale": {"domain": ["Policy Rate", "TR 1993", "TR 1993 modified"], "range": ["#333333", "#ff3030", "#3030ff"]},
                 "legend": {"title": null, "orient": "none", "legendX": 82, "legendY": 536, "direction": "horizontal", "symbolType": "stroke", "symbolSize": 4900, "symbolStrokeWidth": 3, "labelFont": "Liberation Serif", "labelFontWeight": "bold", "labelFontSize": 29, "labelColor": "#000000", "labelOffset": 11, "columnPadding": 12, "labelLimit": 500}}
     }},
    {"data": {"values": [
       {"year": 1960.05, "rate": 23.9, "note": "Bretton Woods"},
       {"year": 1977.0, "rate": -2.35, "note": "Money\ntarget\nregime"},
       {"year": 1991.57, "rate": 23.58, "note": "IT\nintroduced"}]},
     "mark": {"type": "text", "align": "left", "baseline": "top", "font": "Liberation Serif", "fontSize": 20, "lineBreak": "\n", "lineHeight": 20.5, "color": "#1a1a1a"},
     "encoding": {"x": {"field": "year"}, "y": {"field": "rate"}, "text": {"field": "note"}}}
  ]
},
{
  "width": 939, "height": 455,
  "title": {"text": "United States", "anchor": "middle", "frame": "group", "offset": 22},
  "encoding": {
    "x": {"type": "quantitative", "title": null, "scale": {"domain": [1954, 2023.9], "nice": false, "zero": false},
          "axis": {"title": null, "values": [1954,1957,1960,1963,1966,1969,1972,1975,1978,1981,1984,1987,1990,1993,1996,1999,2002,2005,2008,2011,2014,2017,2020,2023],
                   "labelExpr": "'' + datum.value", "labelAngle": 270, "labelFontSize": 24, "tickSize": 9, "labelPadding": 5, "labelOverlap": false, "labelFlush": false}},
    "y": {"type": "quantitative", "title": null, "scale": {"domain": [-8, 24], "nice": false},
          "axis": {"title": null, "values": [-8,-4,0,4,8,12,16,20,24], "labelExpr": "datum.value + '%'", "labelFontSize": 27, "tickSize": 10, "labelPadding": 10}}
  },
  "layer": [
    {"data": {"values": [{"start": 1975.25, "end": 1988.27}]}, "mark": {"type": "rect", "fill": "#fcf0c4"},
     "encoding": {"x": {"field": "start"}, "x2": {"field": "end"}, "y": {"datum": 24}, "y2": {"datum": -8}}},
    {"data": {"name": "grid"}, "mark": {"type": "rule", "color": "#c8c8c8", "strokeWidth": 2.5, "strokeDash": [9, 4]},
     "encoding": {"x": {"datum": 1954}, "x2": {"datum": 2023.9}, "y": {"field": "rate"}}},
    {"data": {"values": [{"year": 2012.65}]}, "mark": {"type": "rule", "color": "#408782", "strokeWidth": 3, "strokeDash": [27, 4]},
     "encoding": {"x": {"field": "year"}, "y": {"datum": 24}, "y2": {"datum": -8}}},
    {"data": {"name": "us"}, "mark": {"type": "line", "strokeWidth": 3},
     "encoding": {
       "x": {"field": "year"},
       "y": {"field": "rate"},
       "color": {"field": "series", "type": "nominal",
                 "scale": {"domain": ["fed funds rate", "TR 1993", "TR 1993 modified"], "range": ["#333333", "#ff3030", "#3030ff"]},
                 "legend": {"title": null, "orient": "none", "legendX": 72, "legendY": 532, "direction": "horizontal", "symbolType": "stroke", "symbolSize": 4900, "symbolStrokeWidth": 3, "labelFont": "Liberation Serif", "labelFontWeight": "bold", "labelFontSize": 29, "labelColor": "#000000", "labelOffset": 11, "columnPadding": 12, "labelLimit": 500}}
     }},
    {"data": {"values": [
       {"year": 1979.56, "rate": -1.95, "note": "Money\ntarget\nregime"},
       {"year": 2013.6, "rate": 23.6, "note": "Medium-term\ninflation\nobjective"}]},
     "mark": {"type": "text", "align": "left", "baseline": "top", "font": "Liberation Serif", "fontSize": 20, "lineBreak": "\n", "lineHeight": 20.5, "color": "#1a1a1a"},
     "encoding": {"x": {"field": "year"}, "y": {"field": "rate"}, "text": {"field": "note"}}}
  ]
}
],
"resolve": {"scale": {"color": "independent"}, "legend": {"color": "independent"}}
}
